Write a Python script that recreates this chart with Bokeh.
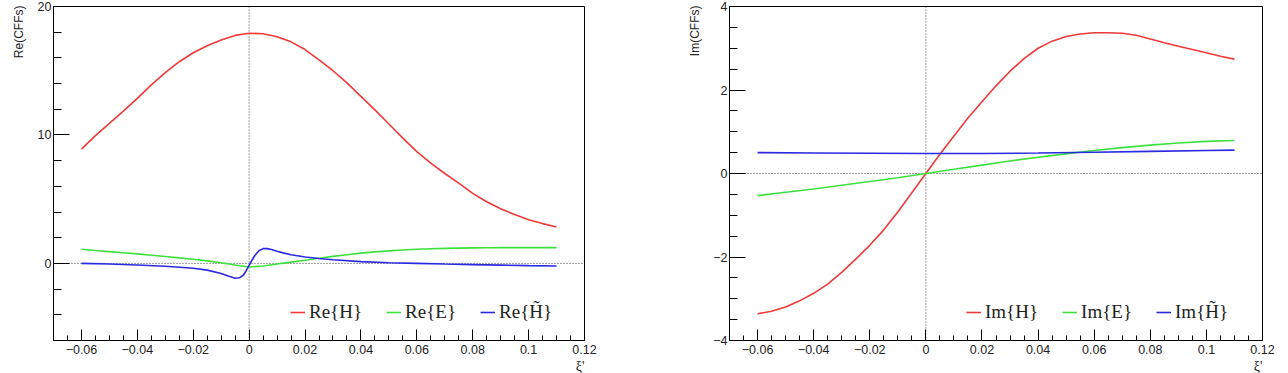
from bokeh.plotting import figure
from bokeh.models import (FixedTicker, CustomJSTickFormatter, Span, Title,
                          Legend, LegendItem, Range1d)
from bokeh.layouts import row
from bokeh.embed import file_html
from bokeh.resources import INLINE

# ---- values ---------------------------------------------------------------
xi = [-0.060, -0.055, -0.050, -0.045, -0.040, -0.035, -0.030, -0.025, -0.020,
      -0.015, -0.010, -0.005, 0.000, 0.005, 0.010, 0.015, 0.020, 0.025, 0.030,
      0.035, 0.040, 0.045, 0.050, 0.055, 0.060, 0.065, 0.070, 0.075, 0.080,
      0.085, 0.090, 0.095, 0.100, 0.105, 0.110]

re_H = [8.90, 9.95, 10.90, 11.85, 12.85, 13.90, 14.85, 15.70, 16.40, 16.95,
        17.40, 17.75, 17.92, 17.88, 17.65, 17.25, 16.65, 15.85, 15.00, 14.05,
        13.00, 11.95, 10.85, 9.75, 8.70, 7.80, 7.00, 6.25, 5.45, 4.80, 4.25,
        3.80, 3.40, 3.10, 2.83]

re_E = [1.10, 1.00, 0.92, 0.83, 0.74, 0.64, 0.54, 0.43, 0.32, 0.20, 0.05,
        -0.12, -0.28, -0.20, -0.05, 0.10, 0.25, 0.40, 0.55, 0.68, 0.80, 0.90,
        0.98, 1.05, 1.10, 1.14, 1.17, 1.19, 1.21, 1.22, 1.23, 1.23, 1.23,
        1.23, 1.23]

xi_re_Ht = [-0.06, -0.05, -0.04, -0.03, -0.02, -0.015, -0.01, -0.0075, -0.005,
            -0.0035, -0.002, -0.001, 0.0, 0.001, 0.002, 0.0035, 0.005, 0.0065,
            0.008, 0.01, 0.0125, 0.015, 0.02, 0.025, 0.03, 0.04, 0.05, 0.06,
            0.07, 0.08, 0.09, 0.10, 0.11]
re_Ht = [0.00, -0.05, -0.12, -0.22, -0.38, -0.52, -0.78, -0.98, -1.15, -1.12,
         -0.90, -0.55, -0.15, 0.25, 0.60, 0.98, 1.15, 1.15, 1.08, 0.95, 0.80,
         0.68, 0.50, 0.38, 0.28, 0.14, 0.05, 0.00, -0.05, -0.09, -0.13, -0.17,
         -0.20]

im_H = [-3.36, -3.30, -3.20, -3.05, -2.87, -2.65, -2.37, -2.05, -1.72, -1.35,
        -0.92, -0.46, 0.00, 0.46, 0.90, 1.33, 1.72, 2.10, 2.45, 2.75, 3.00,
        3.17, 3.28, 3.34, 3.37, 3.37, 3.36, 3.31, 3.22, 3.13, 3.05, 2.97, 2.89,
        2.81, 2.74]

xi_im_E = [-0.06, -0.05, -0.04, -0.03, -0.02, -0.01, 0.0, 0.01, 0.02, 0.03,
           0.04, 0.05, 0.06, 0.07, 0.08, 0.09, 0.10, 0.11]
im_E = [-0.53, -0.45, -0.37, -0.28, -0.19, -0.10, 0.00, 0.10, 0.20, 0.30,
        0.39, 0.47, 0.55, 0.62, 0.68, 0.73, 0.77, 0.79]

xi_im_Ht = [-0.06, -0.04, -0.02, 0.0, 0.02, 0.04, 0.06, 0.08, 0.10, 0.11]
im_Ht = [0.50, 0.49, 0.485, 0.48, 0.48, 0.49, 0.51, 0.53, 0.55, 0.56]

x_major = [-0.06, -0.04, -0.02, 0.0, 0.02, 0.04, 0.06, 0.08, 0.10, 0.12]
re_labels = ["Re{H}", "Re{E}", "Re{H\u0303}"]
im_labels = ["Im{H}", "Im{E}", "Im{H\u0303}"]

RED, GREEN, BLUE = "#f03a3a", "#3ee03e", "#2a2ae0"
SANS = "Liberation Sans"
TXT = "#222222"

fmt = CustomJSTickFormatter(code="""
    const s = parseFloat(Math.abs(tick).toFixed(4)).toString();
    return (tick < -1e-9 ? "\u2212" : "") + s;
""")


def panel(width, left, right, yr, y_major, y_minor, ytitle, series, labels):
    p = figure(width=width, height=373, x_range=Range1d(-0.07, 0.12),
               y_range=Range1d(*yr), output_backend="svg",
               toolbar_location=None, min_border_left=left,
               min_border_right=right, min_border_top=6, min_border_bottom=33)
    p.grid.visible = False
    p.outline_line_color = "black"
    p.outline_line_width = 1
    p.border_fill_color = "white"
    p.background_fill_color = "white"

    x_minor = [round(-0.07 + 0.005 * i, 3) for i in range(39)]
    ax = p.xaxis[0]
    ax.ticker = FixedTicker(ticks=x_major, minor_ticks=x_minor)
    ax.major_tick_in, ax.major_tick_out = 11, 0
    ax.minor_tick_in, ax.minor_tick_out = 5, 0
    ay = p.yaxis[0]
    ay.ticker = FixedTicker(ticks=y_major, minor_ticks=y_minor)
    ay.major_tick_in, ay.major_tick_out = 16, 0
    ay.minor_tick_in, ay.minor_tick_out = 8, 0
    for a in (ax, ay):
        a.formatter = fmt
        a.axis_line_color = "black"
        a.major_tick_line_color = "black"
        a.minor_tick_line_color = "black"
        a.major_label_text_font = SANS
        a.major_label_text_font_size = "12.5px"
        a.major_label_text_color = TXT
    ax.major_label_standoff = 4
    ay.major_label_standoff = 2

    for dim in ("height", "width"):
        s = Span(location=0, dimension=dim, line_color="#444444",
                 line_width=1, line_dash="1 2", level="underlay")
        p.add_layout(s)

    rends = []
    for (xs, ys, c) in series:
        rends.append(p.line(xs, ys, line_color=c, line_width=1.6))

    leg = Legend(items=[LegendItem(label=l, renderers=[r])
                        for l, r in zip(labels, rends)],
                 orientation="horizontal", location=(237, 17),
                 label_text_font="Liberation Serif",
                 label_text_font_size="19px", label_text_color=TXT,
                 glyph_width=15, glyph_height=20, label_height=20,
                 label_standoff=4, spacing=24, padding=0, margin=0,
                 background_fill_alpha=0, border_line_alpha=0)
    p.add_layout(leg)

    # axis titles, aligned to the far end of each axis
    p.add_layout(Title(text=ytitle, align="right", text_font=SANS,
                       text_font_size="12px", text_font_style="normal",
                       text_color=TXT, standoff=18, offset=-1), "left")
    p.add_layout(Title(text="\u03be'", align="right",
                       text_font="Liberation Serif", text_font_size="14px",
                       text_font_style="normal", text_color=TXT,
                       standoff=0), "below")
    return p


p1 = panel(640, 51, 56, (-6, 20), [0, 10, 20], list(range(-6, 21, 2)),
           "Re(CFFs)",
           [(xi, re_H, RED), (xi, re_E, GREEN), (xi_re_Ht, re_Ht, BLUE)],
           re_labels)
p2 = panel(648, 89, 26, (-4, 4), [-4, -2, 0, 2, 4],
           [-4 + 0.5 * i for i in range(17)], "Im(CFFs)",
           [(xi, im_H, RED), (xi_im_E, im_E, GREEN), (xi_im_Ht, im_Ht, BLUE)],
           im_labels)

layout = row(p1, p2, spacing=0)
open("out.html", "w").write(file_html(layout, INLINE))
